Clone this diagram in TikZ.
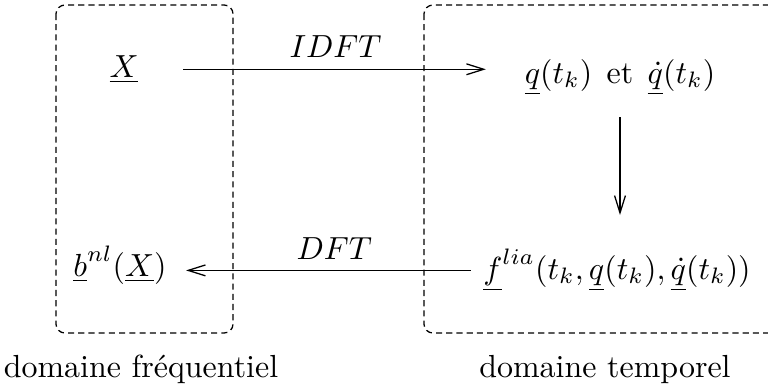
\documentclass[tikz,border=0pt]{standalone}
\usepackage{amsmath}
\usepackage{amssymb}
\usetikzlibrary{arrows.meta}

\begin{document}
\begin{tikzpicture}[x=0.011cm, y=-0.011cm, >={Straight Barb[length=5.4pt,width=3.4pt]},
    domaine/.style={dash pattern=on 1.9pt off 1.3pt, rounded corners=2.8pt},
    terme/.style={inner sep=0pt, anchor=base},
    fleche/.style={->, line width=0.4pt}]
            \useasboundingbox (0,0) rectangle (768,388);
            % Cadres des deux domaines
            \draw[domaine] (56,5) rectangle (233,333);
            \draw[domaine] (424,5) rectangle (790,333);

            % Grandeurs
            \node[terme] (X) at (124,77) {$\underline{X}$};
            \node[terme] (q) at (620,83) {$\underline{q}(t_k)$\hspace{4.5pt}et\hspace{4.5pt}$\underline{\dot{q}}(t_k)$};
            \node[terme] (f) at (617,279) {$\underline{f}^{lia}(t_k,\underline{q}(t_k),\underline{\dot{q}}(t_k))$};
            \node[terme] (b) at (120,276) {$\underline{b}^{nl}(\underline{X})$};

            % Passages d'un domaine a l'autre
            \draw[fleche, shorten <=13.8pt, shorten >=12pt] (X.east) -- (X.east -| q.west)
                node[pos=0.51, above] (idft) {$IDFT$};
            \draw[fleche, shorten <=6.5pt, shorten >=10.5pt] (q.south) -- (q.south |- f.north);
            \draw[fleche, shorten <=3.8pt, shorten >=5.9pt] (f.west) -- (f.west -| b.east)
                node[pos=0.47, above] (dft) {$DFT$};

            % Noms des domaines
            \node[terme] (freq) at (141,377) {domaine fr\'equentiel};
            \node[terme] (temp) at (605,377) {domaine temporel};
        \end{tikzpicture}
\end{document}
